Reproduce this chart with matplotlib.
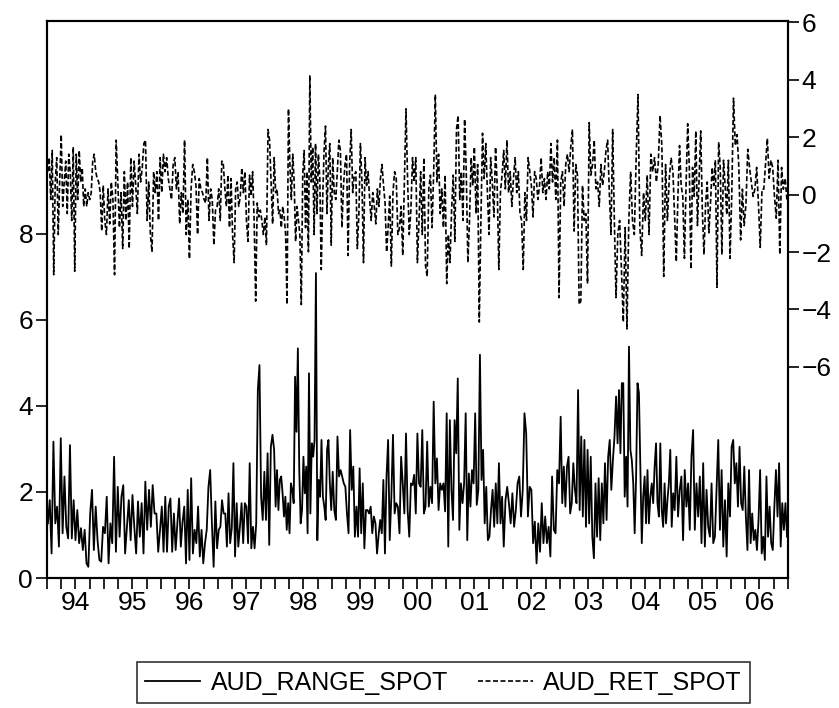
import matplotlib
matplotlib.use('Agg')
import matplotlib.pyplot as plt
import numpy as np

plt.rcParams['font.family'] = ['Liberation Sans', 'DejaVu Sans']

# AUD_RANGE_SPOT (left axis), values read per year
range_94 = [1.27, 1.81, 0.57, 3.17, 1.27, 1.66, 0.73, 3.25, 1.04, 2.36, 1.19, 0.92, 3.09, 0.92, 1.81, 0.88,
            1.58, 0.81, 1.16, 0.65, 1.12, 0.34, 0.26, 1.50, 2.05, 0.65, 1.66, 0.88, 0.42, 0.38, 1.19]
range_95 = [1.04, 1.89, 0.34, 1.27, 0.81, 2.82, 0.61, 2.12, 0.96, 1.89, 2.16, 0.57, 1.19, 1.81, 0.88, 1.93,
            1.19, 0.57, 1.78, 0.96, 1.74, 0.57, 2.24, 1.12, 2.05, 1.19, 2.16, 1.50, 1.50, 0.61, 1.12]
range_96 = [1.66, 0.61, 1.89, 0.61, 1.66, 1.85, 0.61, 1.50, 0.65, 1.27, 1.85, 0.73, 1.31, 1.66, 0.34, 2.05,
            0.42, 2.32, 0.57, 1.12, 0.81, 1.66, 0.50, 1.12, 0.34, 0.81, 1.12, 2.12, 2.51, 1.27, 0.26, 1.78, 0.69]
range_97 = [1.12, 1.19, 1.81, 1.50, 1.50, 0.73, 1.97, 0.81, 1.16, 2.67, 0.50, 1.74, 0.73, 1.19, 1.74, 0.81,
            1.74, 1.66, 0.81, 2.67, 0.69, 1.19, 0.69, 1.27, 4.37, 4.95, 1.89, 1.35, 2.47, 1.35, 2.90, 0.77,
            3.05, 3.33, 2.98]
range_98 = [1.66, 2.51, 1.58, 2.28, 2.36, 1.97, 1.43, 1.89, 1.12, 1.74, 1.04, 2.20, 2.05, 1.74, 4.68, 3.40,
            5.34, 2.51, 1.27, 1.58, 2.82, 1.97, 2.59, 1.04, 4.76, 1.50, 3.13, 2.82, 3.21, 7.09, 0.88, 2.28,
            1.89, 3.21, 1.89, 1.66, 1.35, 2.98, 3.21, 2.20, 1.58]
range_99 = [2.47, 1.58, 1.35, 3.29, 2.36, 2.51, 2.36, 2.20, 2.12, 1.50, 1.04, 3.44, 2.05, 2.59, 0.96, 1.66,
            0.96, 2.55, 1.04, 2.20, 0.69, 1.58, 1.58, 1.50, 1.66, 1.04, 1.43, 1.27, 0.57, 1.00, 1.35, 1.04,
            2.28, 0.57, 2.36, 3.21]
range_00 = [0.88, 1.89, 3.33, 1.50, 1.74, 1.66, 1.04, 2.82, 2.20, 1.50, 3.36, 1.58, 0.96, 2.20, 2.16, 2.40,
            1.50, 3.36, 2.20, 2.12, 3.44, 1.50, 1.66, 3.17, 1.66, 2.12, 1.74, 4.10, 2.20, 2.78, 1.58, 2.20,
            2.05, 2.20, 1.55]
range_01 = [3.83, 0.73, 3.67, 2.05, 1.35, 3.67, 2.90, 4.64, 1.12, 2.20, 1.74, 2.20, 3.83, 0.88, 2.43, 1.66,
            2.51, 2.20, 3.83, 1.70, 2.05, 5.19, 2.28, 2.98, 1.27, 2.12, 0.88, 0.96, 1.58, 2.05, 1.19, 2.20,
            1.27, 2.67, 1.27, 1.89]
range_02 = [0.73, 1.81, 2.12, 1.74, 1.27, 1.97, 1.19, 1.58, 2.20, 2.36, 1.43, 2.05, 3.83, 3.36, 1.43, 2.12,
            2.05, 0.81, 1.31, 0.34, 1.27, 0.61, 1.74, 0.81, 1.43, 0.81, 1.19, 0.50, 2.36, 1.12, 1.04, 2.51, 2.20]
range_03 = [3.75, 1.74, 2.59, 1.66, 2.59, 2.82, 1.50, 1.74, 2.67, 2.05, 1.74, 4.37, 1.58, 3.29, 1.43, 3.21,
            1.19, 2.98, 1.27, 2.82, 0.96, 0.46, 2.20, 0.96, 2.32, 0.88, 2.20, 1.27, 2.67, 1.35, 2.82, 3.21,
            2.05, 2.74, 3.29, 4.22]
range_04 = [3.13, 4.37, 2.90, 4.53, 4.53, 1.89, 2.82, 1.66, 5.38, 2.98, 2.74, 2.20, 1.04, 2.36, 4.53, 4.30,
            2.59, 0.81, 1.89, 2.36, 1.27, 2.51, 1.27, 1.89, 2.20, 1.74, 2.59, 3.13, 1.74, 1.43, 3.13, 1.58,
            1.19, 2.20, 1.27, 1.81, 2.20, 2.98, 1.19, 1.97]
range_05 = [1.58, 2.82, 1.43, 2.05, 2.36, 0.88, 2.51, 1.66, 2.20, 1.12, 2.82, 3.44, 1.12, 2.20, 1.43, 2.36,
            0.81, 2.67, 0.73, 2.05, 1.19, 0.96, 2.20, 0.81, 0.96, 2.05, 3.21, 1.12, 2.51, 0.73, 1.81, 0.50,
            2.20, 1.43]
range_06 = [3.05, 3.21, 2.20, 2.67, 1.66, 3.05, 1.74, 1.58, 2.59, 1.43, 0.65, 2.51, 0.81, 1.50, 0.88, 1.12,
            0.65, 1.35, 2.51, 0.57, 0.96, 0.42, 2.36, 0.96, 1.66, 0.81, 0.65, 1.66, 2.51, 1.43, 2.67, 0.73,
            1.74, 1.12, 1.74, 0.96]

# AUD_RET_SPOT (right axis), values read per year
ret_94 = [0.80, 1.29, -0.17, 1.54, -2.79, 0.44, 1.29, -1.39, 0.56, 2.09, -0.41, 0.44, 1.17, -0.66, 1.41, 0.80,
          -0.90, 1.66, -2.67, 1.41, -0.17, 1.54, 0.44, 0.93, -0.41, 0.20, -0.41, 0.07, -0.17, 0.07, 1.17, 1.41,
          0.80, 0.56, 0.44, 0.07, -1.27, 0.32]
ret_95 = [-0.90, -1.39, 0.20, -1.02, 0.44, -0.17, -2.79, 1.90, 0.44, -1.15, 0.07, -1.88, 0.80, -0.90, 0.44,
          -1.88, 1.29, -0.41, 1.17, 0.32, -0.66, 1.41, 0.44, 0.93, 1.78, 1.90, -0.90, 0.44, -1.39, -2.00, 0.80,
          0.07, 0.80, -0.90, 1.29]
ret_96 = [0.07, 1.41, 0.80, 1.29, 0.56, 0.20, -0.17, 1.05, 1.29, 0.20, 0.80, -1.02, 0.07, -0.66, 1.90, -1.39,
          -0.17, -2.24, 0.20, 1.05, 0.80, 0.32, -1.39, 0.56, 0.20, 0.07, -0.17, -0.29, 1.29, -0.90, 0.20, -0.17,
          -1.76, -0.54, -0.41]
ret_97 = [0.20, -0.90, 1.17, 1.05, 0.20, -0.41, 0.68, -1.15, 0.56, -1.39, -2.37, 0.20, 0.44, -0.41, -0.05, 0.93,
          0.07, 0.80, -0.90, -1.63, 0.68, -0.05, 0.80, -0.90, -3.71, -0.29, -0.78, -0.54, -0.90, -1.39, -0.78,
          -1.76, 2.27, 1.90, 0.44, -1.02, 1.29]
ret_98 = [0.07, 0.20, -0.66, -0.54, -1.15, -0.41, -0.78, -1.39, -3.83, 2.99, 1.05, -0.17, 1.41, 0.44, -1.63,
          -0.41, -0.90, -1.39, -3.83, 0.68, 1.54, -1.15, 0.80, -1.99, 4.16, 0.44, 1.66, -1.39, 1.78, -0.66, 1.41,
          0.56, -2.61, -0.17, 1.54, 2.39, -0.66, 1.05, 1.78, -1.76]
ret_99 = [1.29, 0.07, -0.17, 0.80, 1.90, 1.54, -1.15, 0.32, 1.05, 1.41, -2.12, 1.05, 2.27, 0.07, 0.68, 0.80,
          -1.88, -0.66, 1.78, 0.44, -2.37, 1.29, 0.32, 0.80, -0.17, -0.90, 0.07, -0.41, -1.02, 0.20, -0.41, 0.56,
          1.05, 0.32, -0.29, -2.00, -1.15]
ret_00 = [-0.05, -2.49, 0.07, 0.80, 0.56, -1.39, -1.15, -0.41, -2.12, 0.44, 2.99, 0.44, -1.39, -0.54, 1.29, 0.44,
          1.29, -2.37, -0.90, 0.80, -1.39, 1.29, -2.49, -2.85, 0.20, 0.68, -1.15, 0.80, 3.49, 0.44, 1.41, -0.66,
          0.20, -1.15, 0.68]
ret_01 = [-3.10, -1.39, -2.37, -0.54, 0.68, -1.63, 2.27, 2.76, -0.17, 0.80, -0.90, 2.63, 0.80, -2.37, -0.90,
          1.29, 0.32, 1.66, -0.66, 1.05, -4.44, -0.90, 2.14, 0.56, 1.78, 0.07, -1.39, 1.29, 0.44, -0.78, 1.66,
          0.32, -2.61, 0.07, 0.68]
ret_02 = [1.54, 0.20, 1.90, 0.07, 0.80, -0.41, 0.56, 1.29, 0.07, 0.80, -0.66, -0.90, -2.61, 0.07, -0.90, 1.29,
          0.80, 0.32, -0.78, 0.80, 0.56, -0.17, 0.32, 1.29, 0.07, 0.56, -0.17, 0.80, 0.20, 1.78, 0.44, 1.29,
          -0.17, 1.90, -3.59]
ret_03 = [0.44, 0.80, -0.41, 1.05, 1.41, 0.80, 1.66, 2.27, -1.27, 1.05, 0.68, -3.83, -3.71, 0.32, -0.90, -0.66,
          -3.10, 2.51, 0.68, 1.05, 1.90, 0.20, 0.44, -0.41, 1.05, 0.32, 0.80, 1.54, 1.90, 0.07, -1.39, 2.27,
          -0.90, -3.59]
ret_04 = [-1.39, -0.90, -2.61, -4.44, -1.15, -4.68, -0.90, 0.80, -0.90, -1.39, 1.29, 3.49, -1.15, -2.12, 0.07,
          -0.90, 0.68, -1.39, 1.41, 0.80, 1.29, 0.44, 1.05, 2.76, 1.66, -2.85, 1.05, -0.90, 0.56, 1.29, 0.80]
ret_05 = [-0.82, -2.34, -0.06, 1.71, 0.32, -0.06, -2.22, 0.32, 2.47, 0.95, -2.59, 0.95, -0.06, 2.22, -1.08, 0.57,
          2.22, -0.57, -2.09, -0.32, 0.44, -1.33, -0.32, 0.95, 0.32, 1.20, -3.23, 1.83, 0.95, -2.09, 1.20, 0.32,
          -0.70, 1.20, -2.22]
ret_06 = [-0.06, 3.36, 1.71, 2.09, 0.95, -1.58, 0.19, -1.08, -0.32, 1.58, 0.95, 0.44, -0.06, 0.19, 0.95, -0.32,
          -1.84, 0.19, 0.19, 1.08, 1.96, 0.57, 1.20, 0.95, -0.06, -0.82, 1.20, -2.09, 0.95, 0.19, 0.57, -0.19]

years = list(range(1994, 2007))
range_by_year = [range_94, range_95, range_96, range_97, range_98, range_99, range_00,
                 range_01, range_02, range_03, range_04, range_05, range_06]
ret_by_year = [ret_94, ret_95, ret_96, ret_97, ret_98, ret_99, ret_00,
               ret_01, ret_02, ret_03, ret_04, ret_05, ret_06]
year_labels = ['94', '95', '96', '97', '98', '99', '00', '01', '02', '03', '04', '05', '06']


def spread(by_year):
    # place each year's readings evenly inside that year
    t, v = [], []
    for y, vals in zip(years, by_year):
        n = len(vals)
        t += [y + (i + 0.5) / n for i in range(n)]
        v += vals
    return np.array(t), np.array(v)


t_range, v_range = spread(range_by_year)
t_ret, v_ret = spread(ret_by_year)

fig = plt.figure(figsize=(8.39, 7.08), dpi=100)
ax = fig.add_axes([0.056, 0.1836, 0.883, 0.7867])
ax2 = ax.twinx()

l1, = ax.plot(t_range, v_range, color='black', lw=1.3)
l2, = ax2.plot(t_ret, v_ret, color='black', lw=1.2, linestyle=(0, (3, 1.5)))

ax.set_xlim(1994, 2007)
ax.set_ylim(0, 12.95)
ax2.set_ylim(-13.36, 6.05)

ax.set_yticks([0, 2, 4, 6, 8])
ax2.set_yticks([-6, -4, -2, 0, 2, 4, 6])

# quarter ticks without labels, year labels centred inside each year
ax.xaxis.remove_overlapping_locs = False
ax.set_xticks(np.arange(1994, 2007.01, 0.25))
ax.set_xticklabels([])
ax.set_xticks([y + 0.5 for y in years], minor=True)
ax.set_xticklabels(year_labels, minor=True)
ax.tick_params(axis='x', which='minor', length=0, pad=9, labelsize=19)
ax.tick_params(axis='x', which='major', length=8, width=1.2, direction='out')
ax.tick_params(axis='y', length=8, width=1.2, labelsize=19, pad=2)
ax2.tick_params(axis='y', length=8, width=1.2, labelsize=19, pad=2)

for a in (ax, ax2):
    for s in a.spines.values():
        s.set_linewidth(1.5)

leg = fig.legend([l1, l2], ['AUD_RANGE_SPOT', 'AUD_RET_SPOT'], loc='center',
                 bbox_to_anchor=(0.5286, 0.036), ncol=2, fontsize=18, frameon=True,
                 fancybox=False, edgecolor='black', handlelength=2.2, columnspacing=1.2,
                 handletextpad=0.4, borderpad=0.35)
leg.get_frame().set_linewidth(1.2)

fig.savefig('out.png', dpi=100)
